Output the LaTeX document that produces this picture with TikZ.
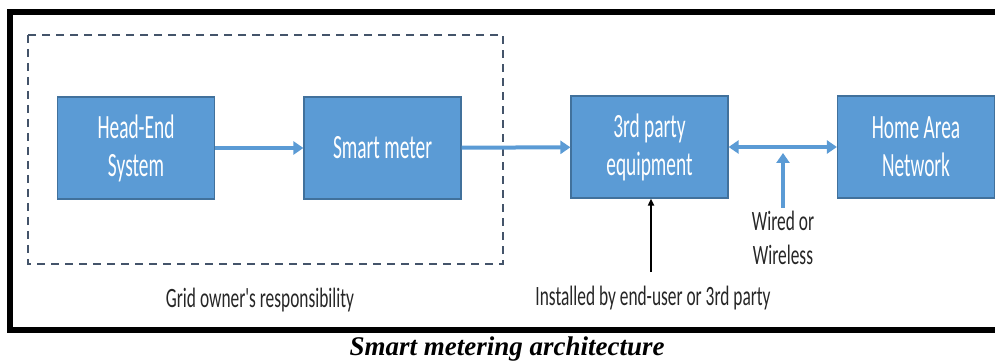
\documentclass[tikz,border=0pt]{standalone}
\usepackage{fontspec}
\usepackage{tikz}
\usetikzlibrary{arrows.meta,positioning}
\newfontfamily\calib{Carlito}
\newfontfamily\capfont{Liberation Serif}
\definecolor{boxfill}{RGB}{91,155,213}
\definecolor{boxedge}{RGB}{65,113,156}
\definecolor{dashcol}{RGB}{68,84,106}
\definecolor{labcol}{RGB}{38,38,38}
\tikzset{>={Triangle[length=10pt,width=13pt]}}
\newcommand{\narrow}[1]{\scalebox{0.57}[1]{#1}}
\newcommand{\slim}[1]{\scalebox{0.62}[1]{#1}}

\begin{document}
\begin{tikzpicture}[x=1pt,y=-1pt,
    unit/.style={draw=boxedge, line width=1.2pt, fill=boxfill, text=white,
      minimum width=157pt, minimum height=102pt, align=center,
      font=\calib\fontsize{34}{38}\selectfont},
    lab/.style={text=labcol, align=center, font=\calib\fontsize{28}{34}\selectfont},
    link/.style={->, draw=boxfill, line width=4pt}]
		\useasboundingbox (0,0) rectangle (995,363);
		\clip (0,0) rectangle (995,363);
		% outer frame
		\draw[line width=5.5pt] (10,12) rectangle (1010,330);
		\draw[dashcol, line width=2.4pt, dash pattern=on 8pt off 6pt] (28,35) rectangle (503,264);

		\node[unit] (head) at (136,148) {\narrow{Head-End}\\\narrow{System}};
		\node[unit] (meter) at (382.5,148) {\narrow{Smart meter}};
		\node[unit] (third) at (649.5,147) {\narrow{3rd party}\\\narrow{equipment}};
		\node[unit] (han) at (916,147) {\narrow{Home Area}\\\narrow{Network}};

		\node[lab] (grid) at (260,300) {\slim{Grid owner's responsibility}};
		\node[lab] (installed) at (653,298) {\slim{Installed by end-user or 3rd party}};
		\node[lab] (wired) at (783,238) {\slim{Wired or}\\\slim{Wireless}};
		\node[anchor=base, font=\capfont\bfseries\itshape\fontsize{27}{30}\selectfont] (caption) at (507,355) {Smart metering architecture};

		\coordinate (tap) at (783,153);
		\coordinate (foot) at (651,272);

		\draw[link] (head) -- (meter);
		\draw[link] (meter) -- (third);
		\draw[link,<->] (third) -- (han);
		\draw[link] (wired) -- (tap);
		\draw[->, line width=1.8pt, >={Triangle[length=7pt,width=6pt]}] (foot) -- (foot |- third.south);
		\end{tikzpicture}
\end{document}
